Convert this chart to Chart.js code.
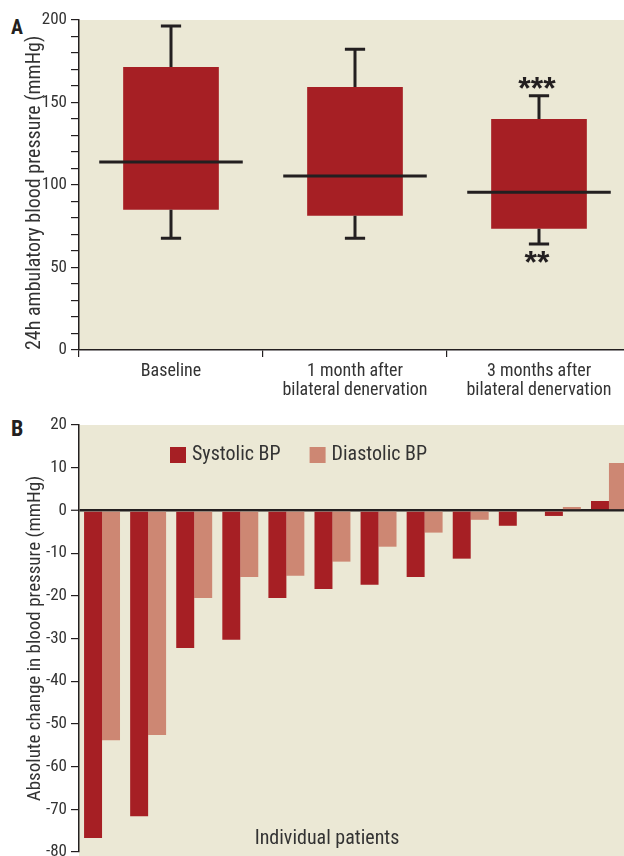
<!DOCTYPE html>
<html>
<head>
<meta charset="utf-8">
<script src="https://cdn.jsdelivr.net/npm/chart.js@4.4.1/dist/chart.umd.min.js"></script>
<style>
  html, body { margin: 0; padding: 0; background: #fff; width: 624px; height: 856px; overflow: hidden; }
  .panel { position: absolute; left: 0; width: 632px; }
  #wrapA { top: 0; height: 400px; }
  #wrapB { top: 405px; height: 470px; }
  .tag { position: absolute; left: 11px; font-family: "Roboto Condensed", "Liberation Sans", sans-serif; font-weight: bold; line-height: 1; color: #231f20; }
</style>
</head>
<body>
<div class="tag" style="top:17px;font-size:20px;">A</div>
<div class="tag" style="top:418px;font-size:22px;">B</div>
<div class="panel" id="wrapA"><canvas id="chartA"></canvas></div>
<div class="panel" id="wrapB"><canvas id="chartB"></canvas></div>
<script>
// Panel A: 24h ambulatory BP, box per time point
const groupLabels = ['Baseline', ['1 month after', 'bilateral denervation'], ['3 months after', 'bilateral denervation']];
const boxLow = [85, 81.4, 73.5];
const boxHigh = [171.5, 159.4, 140];
const medians = [114, 105.5, 95.6];
const whiskerLow = [67.8, 67.7, 64.2];
const whiskerHigh = [196.4, 182.2, 154.1];
const starsAbove = ['', '', '***'];
const starsBelow = ['', '', '**'];
const titleA = '24h ambulatory blood pressure (mmHg)';

// Panel B: change per patient
const patients = ['1', '2', '3', '4', '5', '6', '7', '8', '9', '10', '11', '12'];
const systolic = [-76.7, -71.6, -32.2, -30.3, -20.5, -18.4, -17.4, -15.6, -11.3, -3.6, -1.3, 2.2];
const diastolic = [-53.8, -52.6, -20.5, -15.6, -15.3, -12.0, -8.5, -5.2, -2.2, 0, 0.8, 11.1];
const titleB = 'Absolute change in blood pressure (mmHg)';
const xTitleB = 'Individual patients';

const FONT = '"Roboto Condensed", "Liberation Sans", sans-serif';
const INK = '#231f20';
const TEXT = '#333333';
const BG = '#ebe8d5';
const RED = '#a61f24';
const PINK = '#cd8773';

Chart.defaults.font.family = FONT;
Chart.defaults.color = TEXT;
Chart.defaults.animation = false;

// fills the plot area in beige (B runs to the bottom of the canvas)
const plotBg = {
    id: 'plotBg',
    beforeDraw(chart, args, opts) {
        const { ctx, chartArea } = chart;
        const bottom = opts.toBottom ? chart.height : chartArea.bottom;
        ctx.save();
        ctx.fillStyle = BG;
        ctx.fillRect(chartArea.left, chartArea.top, chartArea.right - chartArea.left, bottom - chartArea.top);
        ctx.restore();
    }
};

// whiskers, medians and significance stars for panel A
const boxExtras = {
    id: 'boxExtras',
    afterDatasetsDraw(chart) {
        const { ctx, scales: { x, y } } = chart;
        const cat = x.width / groupLabels.length;
        ctx.save();
        ctx.strokeStyle = INK;
        ctx.lineWidth = 3;
        for (let i = 0; i < groupLabels.length; i++) {
            const cx = x.getPixelForValue(i);
            const capW = cat * 0.11;
            const medW = cat * 0.78;
            ctx.beginPath();
            ctx.moveTo(cx, y.getPixelForValue(boxHigh[i]));
            ctx.lineTo(cx, y.getPixelForValue(whiskerHigh[i]));
            ctx.moveTo(cx - capW / 2, y.getPixelForValue(whiskerHigh[i]));
            ctx.lineTo(cx + capW / 2, y.getPixelForValue(whiskerHigh[i]));
            ctx.moveTo(cx, y.getPixelForValue(boxLow[i]));
            ctx.lineTo(cx, y.getPixelForValue(whiskerLow[i]));
            ctx.moveTo(cx - capW / 2, y.getPixelForValue(whiskerLow[i]));
            ctx.lineTo(cx + capW / 2, y.getPixelForValue(whiskerLow[i]));
            ctx.moveTo(cx - medW / 2, y.getPixelForValue(medians[i]));
            ctx.lineTo(cx + medW / 2, y.getPixelForValue(medians[i]));
            ctx.stroke();

            ctx.fillStyle = INK;
            ctx.font = 'bold 32px "Liberation Sans", sans-serif';
            ctx.textAlign = 'center';
            ctx.textBaseline = 'alphabetic';
            if (starsAbove[i]) ctx.fillText(starsAbove[i], cx - 2, y.getPixelForValue(whiskerHigh[i]) + 3);
            if (starsBelow[i]) ctx.fillText(starsBelow[i], cx - 2, y.getPixelForValue(whiskerLow[i]) + 29);
        }
        ctx.restore();
    }
};

// legend inside the plot + x title for panel B
const innerLegend = {
    id: 'innerLegend',
    afterDraw(chart) {
        const { ctx, chartArea } = chart;
        ctx.save();
        ctx.font = '20px ' + FONT;
        ctx.textBaseline = 'middle';
        ctx.textAlign = 'left';
        let lx = chartArea.left + 91;
        const ly = chartArea.top + 22;
        chart.data.datasets.forEach(ds => {
            ctx.fillStyle = ds.backgroundColor;
            ctx.fillRect(lx, ly, 16, 16);
            ctx.fillStyle = TEXT;
            ctx.fillText(ds.label, lx + 22, ly + 8);
            lx += 22 + ctx.measureText(ds.label).width + 29;
        });
        ctx.textAlign = 'center';
        ctx.fillText(xTitleB, chartArea.left + 248, chartArea.bottom - 13);
        ctx.restore();
    }
};

const ctxA = document.getElementById('chartA');
new Chart(ctxA, {
    type: 'bar',
    data: {
        labels: groupLabels,
        datasets: [{
            label: 'IQR',
            data: boxLow.map((lo, i) => [lo, boxHigh[i]]),
            backgroundColor: RED,
            borderWidth: 0,
            barPercentage: 0.52,
            categoryPercentage: 1,
        }],
    },
    options: {
        responsive: true,
        maintainAspectRatio: false,
        layout: { padding: { top: 20, right: 1, bottom: 0, left: 0 } },
        plugins: { legend: { display: false }, tooltip: { enabled: false }, plotBg: { toBottom: false } },
        scales: {
            x: {
                grid: { drawOnChartArea: false, drawTicks: true, tickLength: 7, color: INK, lineWidth: 1.2, offset: true },
                border: { color: INK, width: 1.5 },
                ticks: { font: { size: 18, lineHeight: 1.07 }, color: TEXT, padding: 5, maxRotation: 0, autoSkip: false },
                afterFit(scale) { scale.height = 50; },
            },
            y: {
                min: 0, max: 200,
                grid: { drawOnChartArea: false, drawTicks: true, tickLength: 8, color: INK, lineWidth: 1.2 },
                border: { color: INK, width: 1.5 },
                ticks: {
                    stepSize: 10, maxTicksLimit: 30, autoSkip: false, padding: 4,
                    font: { size: 17 }, color: TEXT,
                    callback: (v) => (v % 50 === 0 ? v : ''),
                },
                title: { display: true, text: titleA, align: 'start', font: { size: 20 }, color: TEXT, padding: { top: 23, bottom: 0 } },
                afterFit(scale) { scale.width = 79; },
            },
        },
    },
    plugins: [plotBg, boxExtras],
});

const ctxB = document.getElementById('chartB');
new Chart(ctxB, {
    type: 'bar',
    data: {
        labels: patients,
        datasets: [
            { label: 'Systolic BP', data: systolic, backgroundColor: RED, borderWidth: 0 },
            { label: 'Diastolic BP', data: diastolic, backgroundColor: PINK, borderWidth: 0 },
        ],
    },
    options: {
        responsive: true,
        maintainAspectRatio: false,
        categoryPercentage: 0.78,
        barPercentage: 1,
        layout: { padding: { top: 20, right: 0, bottom: 23, left: 0 } },
        plugins: { legend: { display: false }, tooltip: { enabled: false }, plotBg: { toBottom: true } },
        scales: {
            x: { display: false },
            y: {
                min: -80, max: 20, z: 1,
                grid: {
                    drawOnChartArea: true, drawTicks: true, tickLength: 8,
                    color: (c) => (c.tick && c.tick.value === 0 ? INK : 'rgba(0,0,0,0)'),
                    lineWidth: (c) => (c.tick && c.tick.value === 0 ? 2.5 : 1.2),
                    tickColor: INK, tickWidth: 1.2,
                },
                border: { color: INK, width: 1.5 },
                ticks: { stepSize: 10, autoSkip: false, padding: 4, font: { size: 17 }, color: TEXT },
                title: { display: true, text: titleB, font: { size: 19 }, color: TEXT, padding: { top: 24, bottom: 0 } },
                afterFit(scale) { scale.width = 79; },
            },
        },
    },
    plugins: [plotBg, innerLegend],
});
</script>
</body>
</html>
